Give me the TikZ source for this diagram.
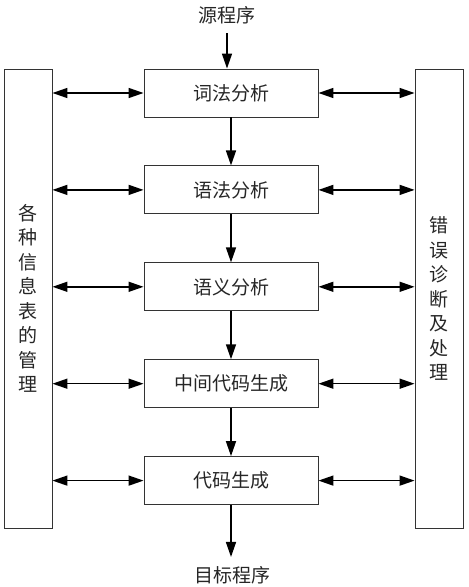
\documentclass[tikz,border=0pt]{standalone}
\usepackage{fontspec}
\setmainfont{Noto Sans CJK SC}
\usetikzlibrary{positioning,arrows.meta}

\tikzset{
  stage/.style = {draw=black!80, line width=0.9pt, minimum width=174pt, minimum height=48pt, inner sep=0pt},
  side/.style = {draw=black!80, line width=0.9pt, minimum width=48pt, minimum height=459pt, inner sep=0pt},
  io/.style = {inner sep=9pt},
  flow/.style = {line width=1.5pt, -{Triangle[length=15pt,width=10pt]}},
  both/.style = {line width=1.5pt, {Triangle[length=15pt,width=10pt]}-{Triangle[length=15pt,width=10pt]}}
}

\begin{document}
\begin{tikzpicture}[x=1pt, y=-1pt, node distance=48pt, font=\fontsize{19}{24.5}\selectfont, text=black!85]
\useasboundingbox (0,0) rectangle (469,587);
\node [stage] (lex) at (231,93) {词法分析};
\node [stage, below=of lex] (syn) {语法分析};
\node [stage, below=of syn] (sem) {语义分析};
\node [stage, below=of sem] (mid) {中间代码生成};
\node [stage, below=of mid] (gen) {代码生成};
\node [io] (src) at (227,15) {源程序};
\node [io] (dst) at (232,575) {目标程序};
\node [side] (tab) at (28,298.5) {};
\node [side] (err) at (439,298.5) {};
\node [align=center] at (tab) {各\\种\\信\\息\\表\\的\\管\\理};
\node [align=center] at (err) {错\\误\\诊\\断\\及\\处\\理};
% main flow
\draw [flow] (src) -- (src |- lex.north);
\foreach \a/\b in {lex/syn, syn/sem, sem/mid, mid/gen}
  \draw [flow] (\a) -- (\b);
\draw [flow] (gen) -- (gen.south |- dst.north);
% side links
\foreach \s in {lex, syn, sem, mid, gen} {
  \draw [both] (\s.west -| tab.east) -- (\s.west);
  \draw [both] (\s.east) -- (\s.east -| err.west);
}
\end{tikzpicture}
\end{document}
